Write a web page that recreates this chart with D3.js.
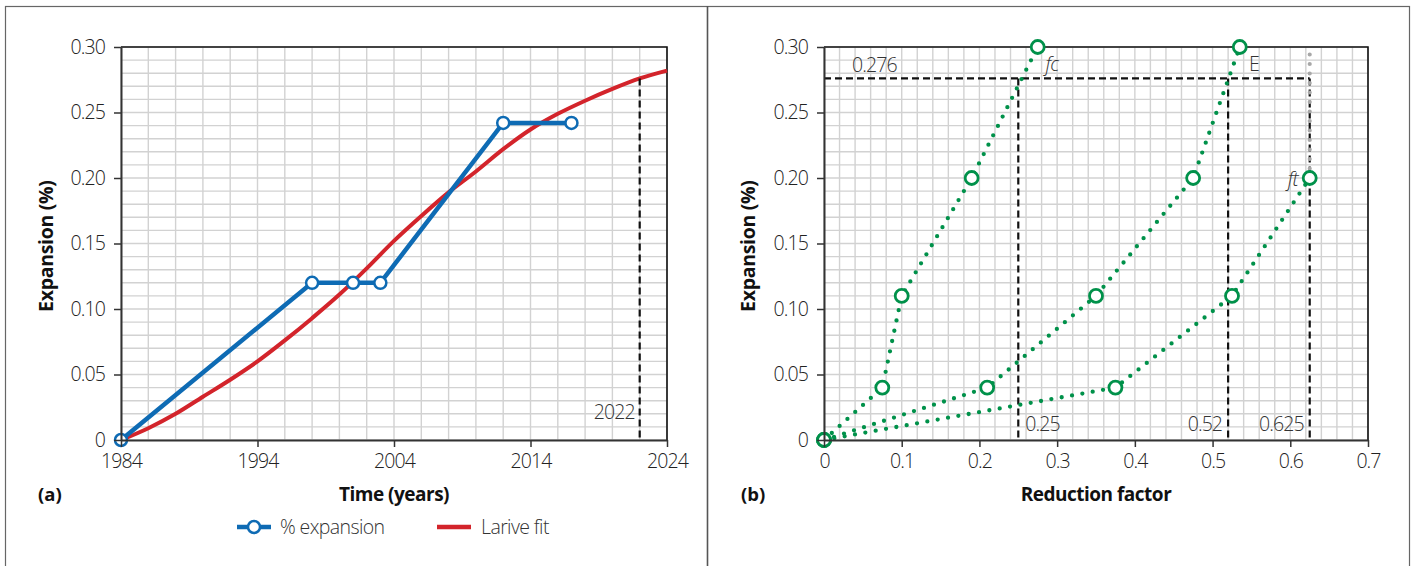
<!DOCTYPE html>
<html>
<head>
<meta charset="utf-8">
<script src="https://cdn.jsdelivr.net/npm/d3@7"></script>
<style>
  body { margin: 0; background: #fff; }
  text { font-family: "Open Sans", "Noto Sans", sans-serif; }
</style>
</head>
<body>
<script>
// ---- data, panel (a)
let years = [1984, 1998, 2001, 2003, 2012, 2017];
let expansion = [0, 0.12, 0.12, 0.12, 0.242, 0.242];
let fitYears = [1984, 1986, 1988, 1990, 1992, 1994, 1996, 1998, 2000, 2002, 2004, 2006, 2008, 2010, 2012, 2014, 2016, 2018, 2020, 2022, 2024];
let fitValues = [0, 0.009, 0.02, 0.033, 0.046, 0.06, 0.076, 0.093, 0.111, 0.131, 0.152, 0.171, 0.189, 0.205, 0.222, 0.237, 0.249, 0.259, 0.268, 0.276, 0.282];
let yearTicks = [1984, 1994, 2004, 2014, 2024];
let expTicks = [0, 0.05, 0.10, 0.15, 0.20, 0.25, 0.30];
let markYear = 2022;

// ---- data, panel (b)
let expLevels = [0, 0.04, 0.11, 0.20, 0.30];
let fcFactor = [0, 0.075, 0.1, 0.19, 0.275];
let eFactor = [0, 0.21, 0.35, 0.475, 0.535];
let ftLevels = [0, 0.04, 0.11, 0.20];
let ftFactor = [0, 0.375, 0.525, 0.625];
let factorTicks = [0, 0.1, 0.2, 0.3, 0.4, 0.5, 0.6, 0.7];
let markExp = 0.276;
let markFactors = [0.25, 0.52, 0.625];

let W = 1415, H = 566;
let svg = d3.select('body').append('svg').attr('width', W).attr('height', H);

// outer frame
svg.append('rect').attr('x', 5.5).attr('y', 6.5).attr('width', 1404).attr('height', 580)
    .attr('fill', 'none').attr('stroke', '#666').attr('stroke-width', 1.2);
svg.append('line').attr('x1', 707.5).attr('x2', 707.5).attr('y1', 6).attr('y2', H)
    .attr('stroke', '#555').attr('stroke-width', 1.6);

let blue = '#0e6bb4', red = '#d3242b', green = '#00914a';
let y = d3.scaleLinear().domain([0, 0.3]).range([440, 47]);
let fmtY = d => d === 0 ? '0' : d.toFixed(2);
let FS = 19.5, LS = -0.9;
let axes = [];

function panel(x, xTicks, xFmt, gridStep, xTitle, tag, yTitleX, tagX) {
    let g = svg.append('g');
    let [x0, x1] = x.domain();
    // grid
    d3.range(0, 0.3001, 0.01).forEach(v => {
        g.append('line').attr('x1', x.range()[0]).attr('x2', x.range()[1])
            .attr('y1', y(v)).attr('y2', y(v)).attr('stroke', '#d2d2d2').attr('stroke-width', 1.4);
    });
    d3.range(x0, x1 + gridStep / 2, gridStep).forEach(v => {
        g.append('line').attr('x1', x(v)).attr('x2', x(v))
            .attr('y1', y(0)).attr('y2', y(0.3)).attr('stroke', '#d2d2d2').attr('stroke-width', 1.4);
    });
    // top/right border
    g.append('path')
        .attr('d', `M${x.range()[0]},${y(0.3)}H${x.range()[1]}V${y(0)}`)
        .attr('fill', 'none').attr('stroke', '#111').attr('stroke-width', 1.6);

    let ax = g.append('g').attr('transform', `translate(0,${y(0)})`)
        .call(d3.axisBottom(x).tickValues(xTicks).tickFormat(xFmt).tickSize(7).tickSizeOuter(0).tickPadding(7));
    let ay = g.append('g').attr('transform', `translate(${x.range()[0]},0)`)
        .call(d3.axisLeft(y).tickValues(expTicks).tickFormat(fmtY).tickSize(7).tickSizeOuter(0).tickPadding(9));
    [ax, ay].forEach(a => {
        a.select('.domain').attr('stroke', '#333').attr('stroke-width', 2);
        a.selectAll('.tick line').attr('stroke', '#333').attr('stroke-width', 1.5);
        a.selectAll('.tick text').attr('font-size', FS).attr('fill', '#222')
            .attr('letter-spacing', LS)
            .style('font-family', '"Open Sans", sans-serif').attr('font-weight', 300);
        axes.push(a);
    });

    g.append('text').attr('x', (x.range()[0] + x.range()[1]) / 2).attr('y', 501)
        .attr('text-anchor', 'middle').attr('font-size', 19).attr('font-weight', 'bold')
        .attr('letter-spacing', -0.5).attr('fill', '#111').text(xTitle);
    g.append('text').attr('x', tagX).attr('y', 501)
        .attr('font-size', 18.5).attr('font-weight', 'bold').attr('fill', '#111').text(tag);
    g.append('text').attr('transform', `translate(${yTitleX},${y(0.148)}) rotate(-90)`)
        .attr('text-anchor', 'middle').attr('font-size', 19.5).attr('font-weight', 'bold')
        .attr('letter-spacing', -0.3).attr('fill', '#111').text('Expansion (%)');
    return g;
}

// ---------- panel (a)
let xa = d3.scaleLinear().domain([1984, 2024]).range([121, 667]);
let ga = panel(xa, yearTicks, d3.format('d'), 2, 'Time (years)', '(a)', 53, 38);

ga.append('path').datum(fitYears.map((t, i) => [t, fitValues[i]]))
    .attr('d', d3.line().x(d => xa(d[0])).y(d => y(d[1])).curve(d3.curveMonotoneX))
    .attr('fill', 'none').attr('stroke', red).attr('stroke-width', 4);

ga.append('line').attr('x1', xa(markYear)).attr('x2', xa(markYear))
    .attr('y1', y(markExp)).attr('y2', y(0))
    .attr('stroke', '#111').attr('stroke-width', 2.2).attr('stroke-dasharray', '7,4');
ga.append('text').attr('x', xa(markYear) - 5).attr('y', 419).attr('text-anchor', 'end')
    .attr('font-size', FS).attr('font-weight', 300).attr('letter-spacing', LS).attr('fill', '#333').text(markYear);

let pa = years.map((t, i) => [t, expansion[i]]);
ga.append('path').datum(pa)
    .attr('d', d3.line().x(d => xa(d[0])).y(d => y(d[1])))
    .attr('fill', 'none').attr('stroke', blue).attr('stroke-width', 4.5);
ga.selectAll('circle.pt').data(pa).enter().append('circle')
    .attr('cx', d => xa(d[0])).attr('cy', d => y(d[1])).attr('r', 6)
    .attr('fill', '#fff').attr('stroke', blue).attr('stroke-width', 2.5);

// legend
let lg = svg.append('g').attr('transform', 'translate(0,527)');
lg.append('line').attr('x1', 237).attr('x2', 271).attr('stroke', blue).attr('stroke-width', 4.5);
lg.append('circle').attr('cx', 254).attr('r', 6).attr('fill', '#fff').attr('stroke', blue).attr('stroke-width', 2.5);
lg.append('text').attr('x', 280).attr('y', 7).attr('font-size', FS).attr('font-weight', 300)
    .attr('letter-spacing', -0.6).attr('fill', '#333').text('% expansion');
lg.append('line').attr('x1', 437).attr('x2', 471).attr('stroke', red).attr('stroke-width', 4.5);
lg.append('text').attr('x', 481).attr('y', 7).attr('font-size', FS).attr('font-weight', 300)
    .attr('letter-spacing', -0.6).attr('fill', '#333').text('Larive fit');

// ---------- panel (b)
let xb = d3.scaleLinear().domain([0, 0.7]).range([824, 1368]);
let gb = panel(xb, factorTicks, d => d === 0 ? '0' : d3.format('.1f')(d), 0.02, 'Reduction factor', '(b)', 755, 741);

// dashed guides
let dash = (x1, y1, x2, y2) => gb.append('line')
    .attr('x1', x1).attr('y1', y1).attr('x2', x2).attr('y2', y2)
    .attr('stroke', '#111').attr('stroke-width', 2.2).attr('stroke-dasharray', '7,4');
dash(xb(0), y(markExp), xb(d3.max(markFactors)), y(markExp));
markFactors.forEach(f => dash(xb(f), y(markExp), xb(f), y(0)));

// grey dotted extension above ft
gb.append('line').attr('x1', xb(0.625)).attr('x2', xb(0.625)).attr('y1', y(0.2)).attr('y2', y(0.3))
    .attr('stroke', '#a8a8a8').attr('stroke-width', 4.2).attr('stroke-linecap', 'round')
    .attr('stroke-dasharray', '0,9.5');

let series = [
    { f: fcFactor, e: expLevels },
    { f: eFactor, e: expLevels },
    { f: ftFactor, e: ftLevels }
];
let lineB = d3.line().x(d => xb(d[0])).y(d => y(d[1]));
series.forEach(s => {
    let pts = s.f.map((v, i) => [v, s.e[i]]);
    gb.append('path').datum(pts).attr('d', lineB)
        .attr('fill', 'none').attr('stroke', green).attr('stroke-width', 4.3)
        .attr('stroke-linecap', 'round').attr('stroke-dasharray', '0,10.5');
    gb.selectAll(null).data(pts).enter().append('circle')
        .attr('cx', d => xb(d[0])).attr('cy', d => y(d[1])).attr('r', 6.5)
        .attr('fill', '#fff').attr('stroke', green).attr('stroke-width', 2.8);
});

let lbl = (x, yy, t, anchor, italic) => gb.append('text').attr('x', x).attr('y', yy)
    .attr('text-anchor', anchor).attr('font-size', FS).attr('font-weight', 300)
    .attr('letter-spacing', LS)
    .attr('font-style', italic ? 'italic' : 'normal').attr('fill', '#333').text(t);
lbl(xb(0.036), 72, '0.276', 'start');
lbl(xb(0.25) + 7, 431, '0.25', 'start');
lbl(xb(0.52) - 6, 431, '0.52', 'end');
lbl(xb(0.625) - 6, 431, '0.625', 'end');
lbl(xb(0.285), 71, 'fc', 'start', true);
lbl(xb(0.547), 71, 'E', 'start');
lbl(xb(0.625) - 12, 186, 'ft', 'end', true);

// axis lines sit over the markers at the origin
axes.forEach(a => a.raise());
</script>
</body>
</html>
